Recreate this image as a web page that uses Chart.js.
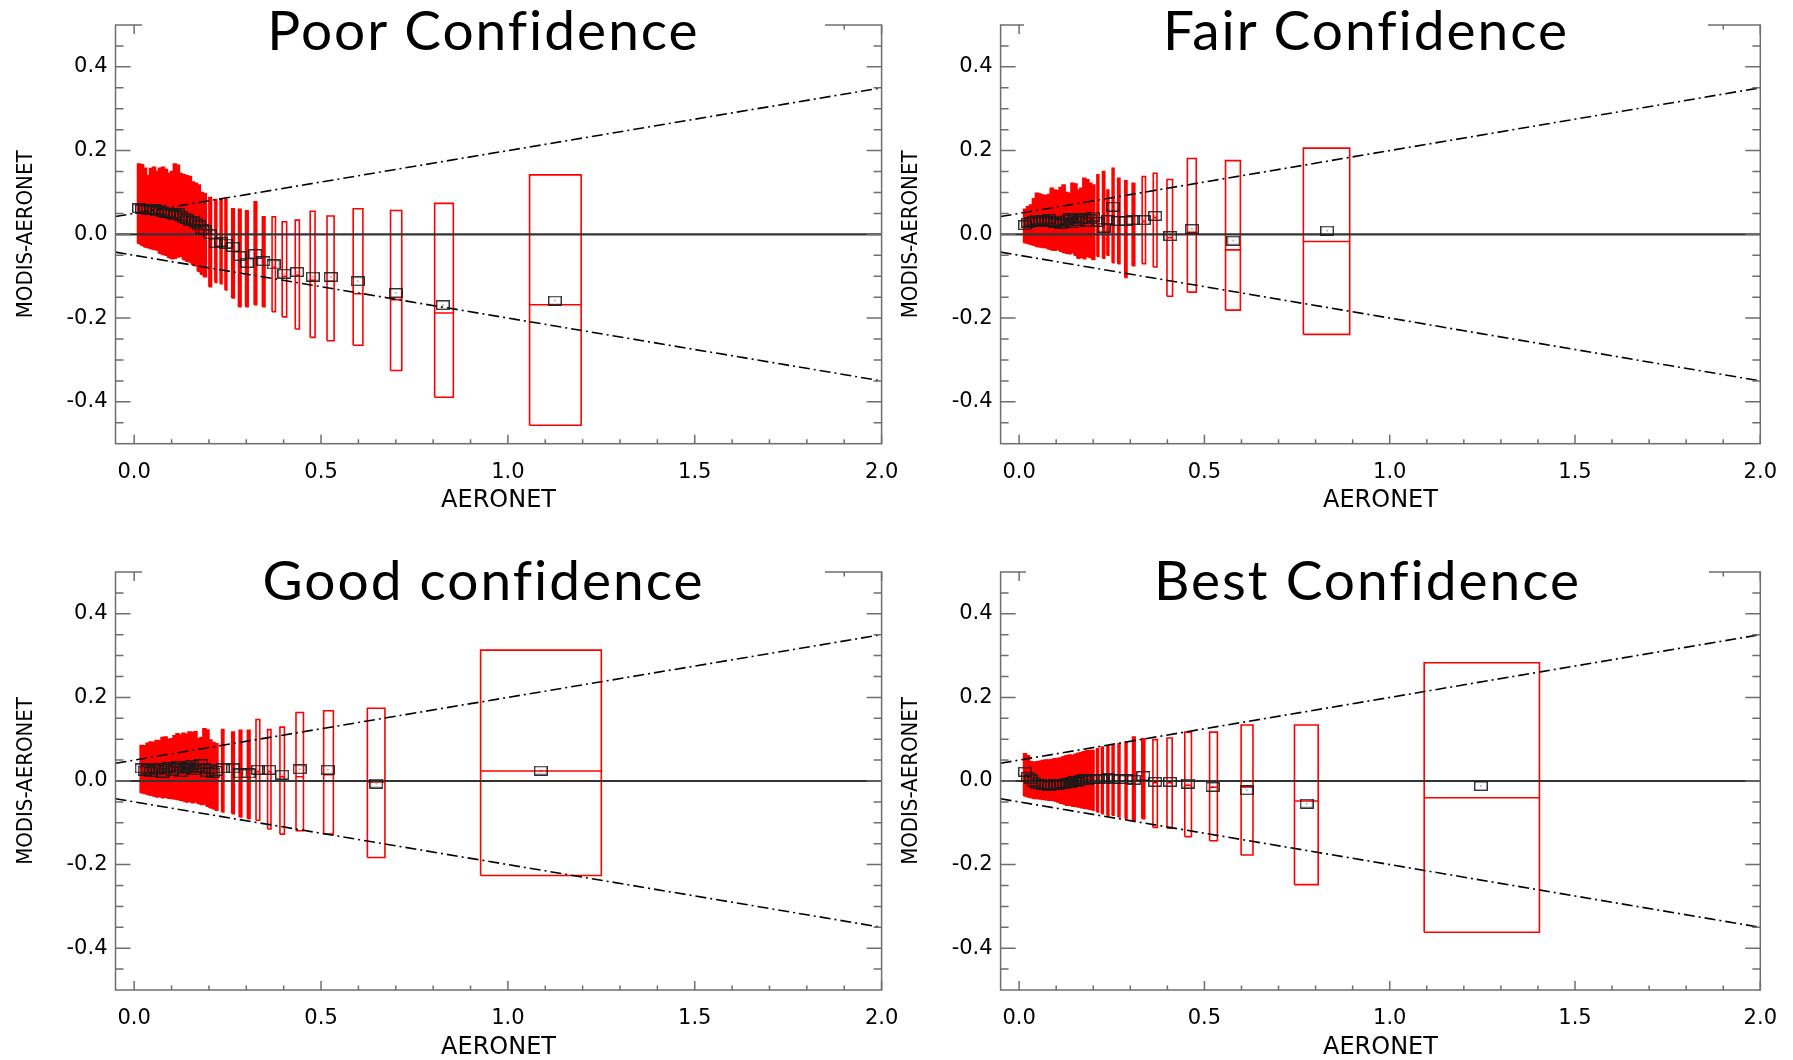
<!DOCTYPE html>
<html>
<head>
<meta charset="utf-8">
<script src="https://cdn.jsdelivr.net/npm/chart.js@4.4.1/dist/chart.umd.min.js"></script>
<style>
  html, body { margin: 0; padding: 0; background: #fff; }
  body { width: 1793px; height: 1060px; position: relative; overflow: hidden; }
  canvas { position: absolute; }
  .ttl {
    position: absolute; background: #fff; color: #000;
    font-family: Lato, 'Open Sans', sans-serif; font-size: 55px; font-weight: 400; letter-spacing: 2px;
    text-align: center; white-space: nowrap; height: 65px; line-height: 65px;
  }
</style>
</head>
<body>
<canvas id="c1"></canvas>
<canvas id="c2"></canvas>
<canvas id="c3"></canvas>
<canvas id="c4"></canvas>
<div class="ttl" style="left:142px;top:-3px;width:683px;">Poor Confidence</div>
<div class="ttl" style="left:1024px;top:-3px;width:684px;">Fair Confidence</div>
<div class="ttl" style="left:142px;top:547px;width:683px;">Good confidence</div>
<div class="ttl" style="left:1026px;top:547px;width:683px;">Best Confidence</div>
<script>
// axis ticks
const xMajorTicks = [0, 0.5, 1.0, 1.5, 2.0];
const xMinorTicks = [0.1, 0.2, 0.3, 0.4, 0.6, 0.7, 0.8, 0.9, 1.1, 1.2, 1.3, 1.4, 1.6, 1.7, 1.8, 1.9];
const yMajorTicks = [-0.4, -0.2, 0, 0.2, 0.4];
const yMinorTicks = [-0.45, -0.35, -0.3, -0.25, -0.15, -0.1, -0.05, 0.05, 0.1, 0.15, 0.25, 0.3, 0.35, 0.45];

// reference lines: zero and expected error envelope
const envX = [-0.05, 2.0];
const zeroY = [0, 0];
const envUpper = [0.0425, 0.35];
const envLower = [-0.0425, -0.35];

// Poor confidence: box x extent, lower/upper y, median, mean point
const poorX0 = [0.009,0.017,0.025,0.033,0.041,0.049,0.057,0.065,0.073,0.081,0.089,0.097,0.105,0.113,0.121,0.129,0.137,0.145,0.153,0.161,0.169,0.177,0.185,
  0.200,0.216,0.230,0.243,0.261,0.279,0.298,0.321,0.343,0.369,0.396,0.431,0.471,0.516,0.586,0.686,0.804,1.058];
const poorX1 = [0.017,0.025,0.033,0.041,0.049,0.057,0.065,0.073,0.081,0.089,0.097,0.105,0.113,0.121,0.129,0.137,0.145,0.153,0.161,0.169,0.177,0.185,0.193,
  0.207,0.221,0.235,0.248,0.268,0.286,0.305,0.328,0.350,0.378,0.408,0.442,0.484,0.535,0.612,0.716,0.854,1.196];
const poorLo = [-0.022,-0.026,-0.030,-0.032,-0.034,-0.036,-0.037,-0.045,-0.048,-0.050,-0.055,-0.058,-0.057,-0.054,-0.052,-0.060,-0.064,-0.066,-0.072,-0.075,-0.088,-0.095,-0.101,
  -0.125,-0.115,-0.118,-0.133,-0.152,-0.173,-0.173,-0.168,-0.173,-0.185,-0.197,-0.226,-0.246,-0.254,-0.265,-0.325,-0.389,-0.456];
const poorHi = [0.168,0.166,0.158,0.140,0.157,0.160,0.150,0.158,0.160,0.155,0.145,0.150,0.168,0.165,0.145,0.142,0.140,0.138,0.125,0.122,0.118,0.100,0.097,
  0.088,0.083,0.083,0.083,0.061,0.060,0.056,0.078,0.042,0.042,0.030,0.034,0.055,0.044,0.061,0.057,0.074,0.142];
const poorMed = [0.058,0.057,0.058,0.055,0.054,0.056,0.052,0.055,0.051,0.049,0.047,0.045,0.043,0.046,0.041,0.037,0.033,0.030,0.029,0.025,0.019,0.009,0.007,
  -0.004,-0.025,-0.022,-0.027,-0.035,-0.056,-0.072,-0.052,-0.069,-0.078,-0.100,-0.097,-0.110,-0.112,-0.142,-0.156,-0.188,-0.168];
const poorMx = [0.013,0.021,0.029,0.037,0.045,0.053,0.061,0.069,0.077,0.085,0.093,0.101,0.109,0.117,0.125,0.133,0.141,0.149,0.157,0.165,0.173,0.181,0.189,
  0.203,0.218,0.232,0.245,0.264,0.282,0.302,0.324,0.346,0.373,0.402,0.436,0.478,0.526,0.598,0.700,0.826,1.126];
const poorMy = [0.062,0.060,0.061,0.058,0.057,0.060,0.055,0.058,0.054,0.052,0.050,0.048,0.046,0.050,0.044,0.040,0.036,0.033,0.032,0.028,0.022,0.012,0.010,
  0.000,-0.021,-0.018,-0.022,-0.030,-0.052,-0.068,-0.047,-0.064,-0.072,-0.094,-0.090,-0.101,-0.102,-0.112,-0.140,-0.169,-0.158];

// Fair confidence
const fairX0 = [0.012,0.020,0.028,0.036,0.044,0.052,0.060,0.068,0.076,0.084,0.092,0.100,0.108,0.116,0.124,0.132,0.140,0.148,0.156,0.164,0.172,0.180,0.188,0.196,
  0.210,0.225,0.237,0.251,0.266,0.285,0.305,0.332,0.362,0.399,0.454,0.557,0.767];
const fairX1 = [0.020,0.028,0.036,0.044,0.052,0.060,0.068,0.076,0.084,0.092,0.100,0.108,0.116,0.124,0.132,0.140,0.148,0.156,0.164,0.172,0.180,0.188,0.196,0.204,
  0.215,0.231,0.242,0.256,0.272,0.291,0.312,0.341,0.372,0.414,0.478,0.597,0.892];
const fairLo = [-0.020,-0.022,-0.024,-0.026,-0.029,-0.030,-0.031,-0.032,-0.035,-0.037,-0.038,-0.036,-0.040,-0.043,-0.045,-0.046,-0.044,-0.050,-0.057,-0.055,-0.058,-0.053,-0.055,-0.060,
  -0.053,-0.057,-0.050,-0.068,-0.070,-0.103,-0.075,-0.070,-0.078,-0.148,-0.138,-0.181,-0.239];
const fairHi = [0.060,0.066,0.070,0.085,0.098,0.096,0.094,0.092,0.095,0.110,0.106,0.104,0.112,0.118,0.100,0.098,0.122,0.120,0.106,0.110,0.134,0.130,0.122,0.118,
  0.142,0.150,0.106,0.158,0.134,0.128,0.122,0.138,0.146,0.131,0.181,0.176,0.206];
const fairMed = [0.020,0.025,0.027,0.030,0.032,0.027,0.031,0.029,0.033,0.027,0.025,0.030,0.022,0.027,0.032,0.035,0.024,0.037,0.029,0.033,0.035,0.027,0.033,0.039,
  0.027,0.013,0.030,0.060,0.028,0.027,0.030,0.030,0.040,-0.008,0.005,-0.037,-0.017];
const fairMx = [0.016,0.024,0.032,0.040,0.048,0.056,0.064,0.072,0.080,0.088,0.096,0.104,0.112,0.120,0.128,0.136,0.144,0.152,0.160,0.168,0.176,0.184,0.192,0.200,
  0.212,0.228,0.240,0.254,0.268,0.288,0.306,0.336,0.367,0.408,0.466,0.578,0.831];
const fairMy = [0.022,0.028,0.030,0.033,0.035,0.030,0.034,0.032,0.036,0.030,0.028,0.033,0.025,0.030,0.035,0.038,0.027,0.040,0.032,0.036,0.038,0.030,0.036,0.042,
  0.030,0.016,0.034,0.066,0.032,0.032,0.034,0.034,0.044,-0.004,0.013,-0.015,0.009];

// Good confidence
const goodX0 = [0.016,0.024,0.032,0.040,0.048,0.056,0.064,0.072,0.080,0.088,0.096,0.104,0.112,0.120,0.128,0.136,0.144,0.152,0.160,0.168,0.176,0.184,0.192,0.200,0.208,0.216,
  0.234,0.261,0.281,0.303,0.326,0.357,0.390,0.433,0.507,0.624,0.927];
const goodX1 = [0.024,0.032,0.040,0.048,0.056,0.064,0.072,0.080,0.088,0.096,0.104,0.112,0.120,0.128,0.136,0.144,0.152,0.160,0.168,0.176,0.184,0.192,0.200,0.208,0.216,0.224,
  0.240,0.268,0.288,0.310,0.336,0.366,0.402,0.453,0.533,0.671,1.250];
const goodLo = [-0.028,-0.030,-0.032,-0.034,-0.036,-0.038,-0.037,-0.040,-0.039,-0.041,-0.042,-0.043,-0.044,-0.046,-0.048,-0.050,-0.049,-0.052,-0.050,-0.054,-0.056,-0.055,-0.060,-0.064,-0.066,-0.070,
  -0.074,-0.078,-0.086,-0.090,-0.094,-0.115,-0.127,-0.119,-0.127,-0.183,-0.226];
const goodHi = [0.085,0.084,0.090,0.093,0.092,0.097,0.096,0.104,0.105,0.100,0.101,0.108,0.113,0.110,0.114,0.112,0.117,0.116,0.118,0.101,0.104,0.125,0.122,0.098,0.092,0.089,
  0.123,0.117,0.121,0.121,0.147,0.123,0.129,0.164,0.168,0.174,0.313];
const goodMed = [0.027,0.022,0.025,0.019,0.027,0.023,0.029,0.017,0.025,0.030,0.021,0.027,0.032,0.019,0.025,0.031,0.027,0.035,0.023,0.029,0.037,0.027,0.019,0.025,0.017,0.021,
  0.026,0.026,0.014,0.014,0.022,0.022,0.010,0.010,0.015,-0.002,0.024];
const goodMx = [0.020,0.028,0.036,0.044,0.052,0.060,0.068,0.076,0.084,0.092,0.100,0.108,0.116,0.124,0.132,0.140,0.148,0.156,0.164,0.172,0.180,0.188,0.196,0.204,0.212,0.220,
  0.237,0.264,0.284,0.306,0.331,0.361,0.396,0.443,0.518,0.648,1.088];
const goodMy = [0.030,0.025,0.028,0.022,0.030,0.026,0.032,0.020,0.028,0.033,0.024,0.030,0.035,0.022,0.028,0.034,0.030,0.038,0.026,0.032,0.040,0.030,0.022,0.028,0.020,0.024,
  0.030,0.030,0.018,0.018,0.027,0.027,0.015,0.028,0.027,-0.006,0.025];

// Best confidence
const bestX0 = [0.012,0.020,0.028,0.036,0.044,0.052,0.060,0.068,0.076,0.084,0.092,0.100,0.108,0.116,0.124,0.132,0.140,0.148,0.156,0.164,0.172,0.180,0.188,
  0.197,0.209,0.222,0.237,0.251,0.267,0.286,0.306,0.331,0.361,0.399,0.447,0.514,0.599,0.743,1.093];
const bestX1 = [0.020,0.028,0.036,0.044,0.052,0.060,0.068,0.076,0.084,0.092,0.100,0.108,0.116,0.124,0.132,0.140,0.148,0.156,0.164,0.172,0.180,0.188,0.196,
  0.202,0.214,0.227,0.242,0.256,0.272,0.291,0.313,0.339,0.373,0.413,0.465,0.535,0.631,0.807,1.404];
const bestLo = [-0.036,-0.038,-0.040,-0.042,-0.042,-0.043,-0.044,-0.045,-0.046,-0.046,-0.048,-0.050,-0.053,-0.055,-0.058,-0.058,-0.060,-0.061,-0.062,-0.064,-0.065,-0.066,-0.068,
  -0.070,-0.074,-0.078,-0.082,-0.082,-0.086,-0.090,-0.094,-0.090,-0.111,-0.113,-0.133,-0.143,-0.177,-0.248,-0.362];
const bestHi = [0.065,0.060,0.046,0.045,0.046,0.047,0.049,0.050,0.050,0.051,0.053,0.054,0.055,0.058,0.060,0.062,0.061,0.064,0.066,0.068,0.070,0.072,0.073,
  0.073,0.077,0.081,0.084,0.086,0.089,0.093,0.105,0.101,0.099,0.103,0.117,0.117,0.134,0.134,0.283];
const bestMed = [0.018,0.007,0.001,-0.005,-0.009,-0.011,-0.013,-0.012,-0.014,-0.013,-0.011,-0.012,-0.010,-0.009,-0.007,-0.008,-0.005,-0.003,-0.006,-0.001,0.001,0.000,0.002,
  0.001,0.002,0.001,0.003,0.002,0.001,0.001,0.000,0.008,-0.004,-0.004,-0.010,-0.015,-0.014,-0.048,-0.040];
const bestMx = [0.016,0.024,0.032,0.040,0.048,0.056,0.064,0.072,0.080,0.088,0.096,0.104,0.112,0.120,0.128,0.136,0.144,0.152,0.160,0.168,0.176,0.184,0.192,
  0.200,0.212,0.225,0.240,0.254,0.270,0.288,0.310,0.335,0.367,0.407,0.456,0.522,0.614,0.776,1.246];
const bestMy = [0.022,0.010,0.004,-0.002,-0.006,-0.008,-0.010,-0.009,-0.011,-0.010,-0.008,-0.009,-0.007,-0.006,-0.004,-0.005,-0.002,0.000,-0.003,0.002,0.004,0.003,0.005,
  0.004,0.005,0.004,0.006,0.005,0.004,0.004,0.003,0.012,-0.002,-0.002,-0.006,-0.014,-0.022,-0.054,-0.012];

const RED = '#ff0000';
const FRAME = '#6e6e6e';

// mean marker: open box (a bit wider than tall, like the original) with a centre dot
const meanMark = (() => {
  const c = document.createElement('canvas');
  c.width = 14;
  c.height = 10;
  const g = c.getContext('2d');
  g.strokeStyle = '#1a1a1a';
  g.lineWidth = 1.3;
  g.strokeRect(0.75, 0.75, 12.5, 8.5);
  g.fillStyle = '#000';
  g.fillRect(6.5, 4.5, 1, 1);
  return c;
})();

// IDL-style frame: box all round, ticks pointing inward
const framePlugin = {
  id: 'idlFrame',
  afterDraw(chart) {
    const { ctx, chartArea: a, scales: { x, y } } = chart;
    ctx.save();
    ctx.strokeStyle = FRAME;
    ctx.lineWidth = 1.5;
    ctx.strokeRect(a.left, a.top, a.right - a.left, a.bottom - a.top);
    ctx.beginPath();
    const xt = (v, len) => {
      const px = x.getPixelForValue(v);
      ctx.moveTo(px, a.bottom); ctx.lineTo(px, a.bottom - len);
      ctx.moveTo(px, a.top); ctx.lineTo(px, a.top + len);
    };
    const yt = (v, len) => {
      const py = y.getPixelForValue(v);
      ctx.moveTo(a.left, py); ctx.lineTo(a.left + len, py);
      ctx.moveTo(a.right, py); ctx.lineTo(a.right - len, py);
    };
    xMajorTicks.forEach(v => xt(v, 9));
    xMinorTicks.forEach(v => xt(v, 4.5));
    yMajorTicks.forEach(v => yt(v, 15));
    yMinorTicks.forEach(v => yt(v, 8));
    ctx.stroke();
    ctx.restore();
  }
};

const pts = (xs, ys) => xs.map((x, i) => ({ x, y: ys[i] }));

const makePanel = (cfg) => {
  const cv = document.getElementById(cfg.id);
  cv.width = cfg.w;
  cv.height = cfg.h;
  cv.style.left = cfg.left + 'px';
  cv.style.top = cfg.top + 'px';
  cv.style.width = cfg.w + 'px';
  cv.style.height = cfg.h + 'px';

  const d = cfg.d;
  const datasets = [];

  // mean points
  datasets.push({ data: pts(d.mx, d.my), pointStyle: meanMark, pointRadius: 5, order: 0 });

  // zero line and envelope
  datasets.push({ data: pts(envX, zeroY), showLine: true, pointRadius: 0, borderColor: '#333', borderWidth: 2.2, order: 1 });
  datasets.push({ data: pts(envX, envUpper), showLine: true, pointRadius: 0, borderColor: '#000', borderWidth: 1.6, borderDash: [11, 4, 2, 4], order: 1 });
  datasets.push({ data: pts(envX, envLower), showLine: true, pointRadius: 0, borderColor: '#000', borderWidth: 1.6, borderDash: [11, 4, 2, 4], order: 1 });

  // boxes and medians; very narrow boxes come out solid red
  d.x0.forEach((x0, i) => {
    const x1 = d.x1[i];
    datasets.push({
      data: [{ x: x0, y: d.lo[i] }, { x: x1, y: d.lo[i] }, { x: x1, y: d.hi[i] }, { x: x0, y: d.hi[i] }, { x: x0, y: d.lo[i] }],
      showLine: true, pointRadius: 0, borderColor: RED, borderWidth: 1.6,
      fill: (x1 - x0) < 0.0085 ? 'shape' : false, backgroundColor: RED, order: 3
    });
    datasets.push({
      data: [{ x: x0, y: d.med[i] }, { x: x1, y: d.med[i] }],
      showLine: true, pointRadius: 0, borderColor: RED, borderWidth: 1.6, order: 2
    });
  });

  const tickFont = { family: "'DejaVu Sans', sans-serif", size: 21 };

  new Chart(cv, {
    type: 'scatter',
    data: { datasets },
    options: {
      responsive: false,
      devicePixelRatio: 1,
      animation: false,
      events: [],
      layout: { padding: { left: 0, top: cfg.area.t, right: cfg.w - cfg.area.r, bottom: 0 } },
      plugins: { legend: { display: false }, tooltip: { enabled: false } },
      scales: {
        x: {
          type: 'linear', min: -0.05, max: 2.0,
          afterBuildTicks: s => { s.ticks = xMajorTicks.map(v => ({ value: v })); },
          afterFit: s => { s.height = cfg.h - cfg.area.b; },
          grid: { display: false, drawTicks: false },
          border: { display: false },
          ticks: { color: '#000', font: tickFont, padding: 16, maxRotation: 0, autoSkip: false, callback: v => v.toFixed(1) },
          title: {
            display: true, text: 'AERONET', color: '#000',
            font: { family: "'DejaVu Sans', sans-serif", size: 24, lineHeight: 1 },
            padding: { top: 0, bottom: cfg.xTitlePad }
          }
        },
        y: {
          type: 'linear', min: -0.5, max: 0.5,
          afterBuildTicks: s => { s.ticks = yMajorTicks.map(v => ({ value: v })); },
          afterFit: s => { s.width = cfg.area.l; },
          grid: { display: false, drawTicks: false },
          border: { display: false },
          ticks: { color: '#000', font: tickFont, padding: 8, autoSkip: false, callback: v => v.toFixed(1) },
          title: {
            display: true, text: 'MODIS-AERONET', color: '#000',
            font: { family: "'Liberation Sans Narrow', 'DejaVu Sans Condensed', 'Arial Narrow', sans-serif", size: 22, lineHeight: 1 },
            padding: { top: cfg.yTitlePad, bottom: 0 }
          }
        }
      }
    },
    plugins: [framePlugin]
  });
};

makePanel({ id: 'c1', left: 0, top: 0, w: 940, h: 530, area: { l: 115.5, t: 25, r: 881.6, b: 443.7 }, xTitlePad: 17, yTitlePad: 15,
  d: { x0: poorX0, x1: poorX1, lo: poorLo, hi: poorHi, med: poorMed, mx: poorMx, my: poorMy } });
makePanel({ id: 'c2', left: 896, top: 0, w: 897, h: 530, area: { l: 104.6, t: 25, r: 868.5, b: 443.7 }, xTitlePad: 17, yTitlePad: 4,
  d: { x0: fairX0, x1: fairX1, lo: fairLo, hi: fairHi, med: fairMed, mx: fairMx, my: fairMy } });
makePanel({ id: 'c3', left: 0, top: 530, w: 940, h: 530, area: { l: 115.5, t: 42, r: 881.6, b: 460 }, xTitlePad: 0, yTitlePad: 15,
  d: { x0: goodX0, x1: goodX1, lo: goodLo, hi: goodHi, med: goodMed, mx: goodMx, my: goodMy } });
makePanel({ id: 'c4', left: 896, top: 530, w: 897, h: 530, area: { l: 104.6, t: 42, r: 868.5, b: 460 }, xTitlePad: 0, yTitlePad: 4,
  d: { x0: bestX0, x1: bestX1, lo: bestLo, hi: bestHi, med: bestMed, mx: bestMx, my: bestMy } });
</script>
</body>
</html>
